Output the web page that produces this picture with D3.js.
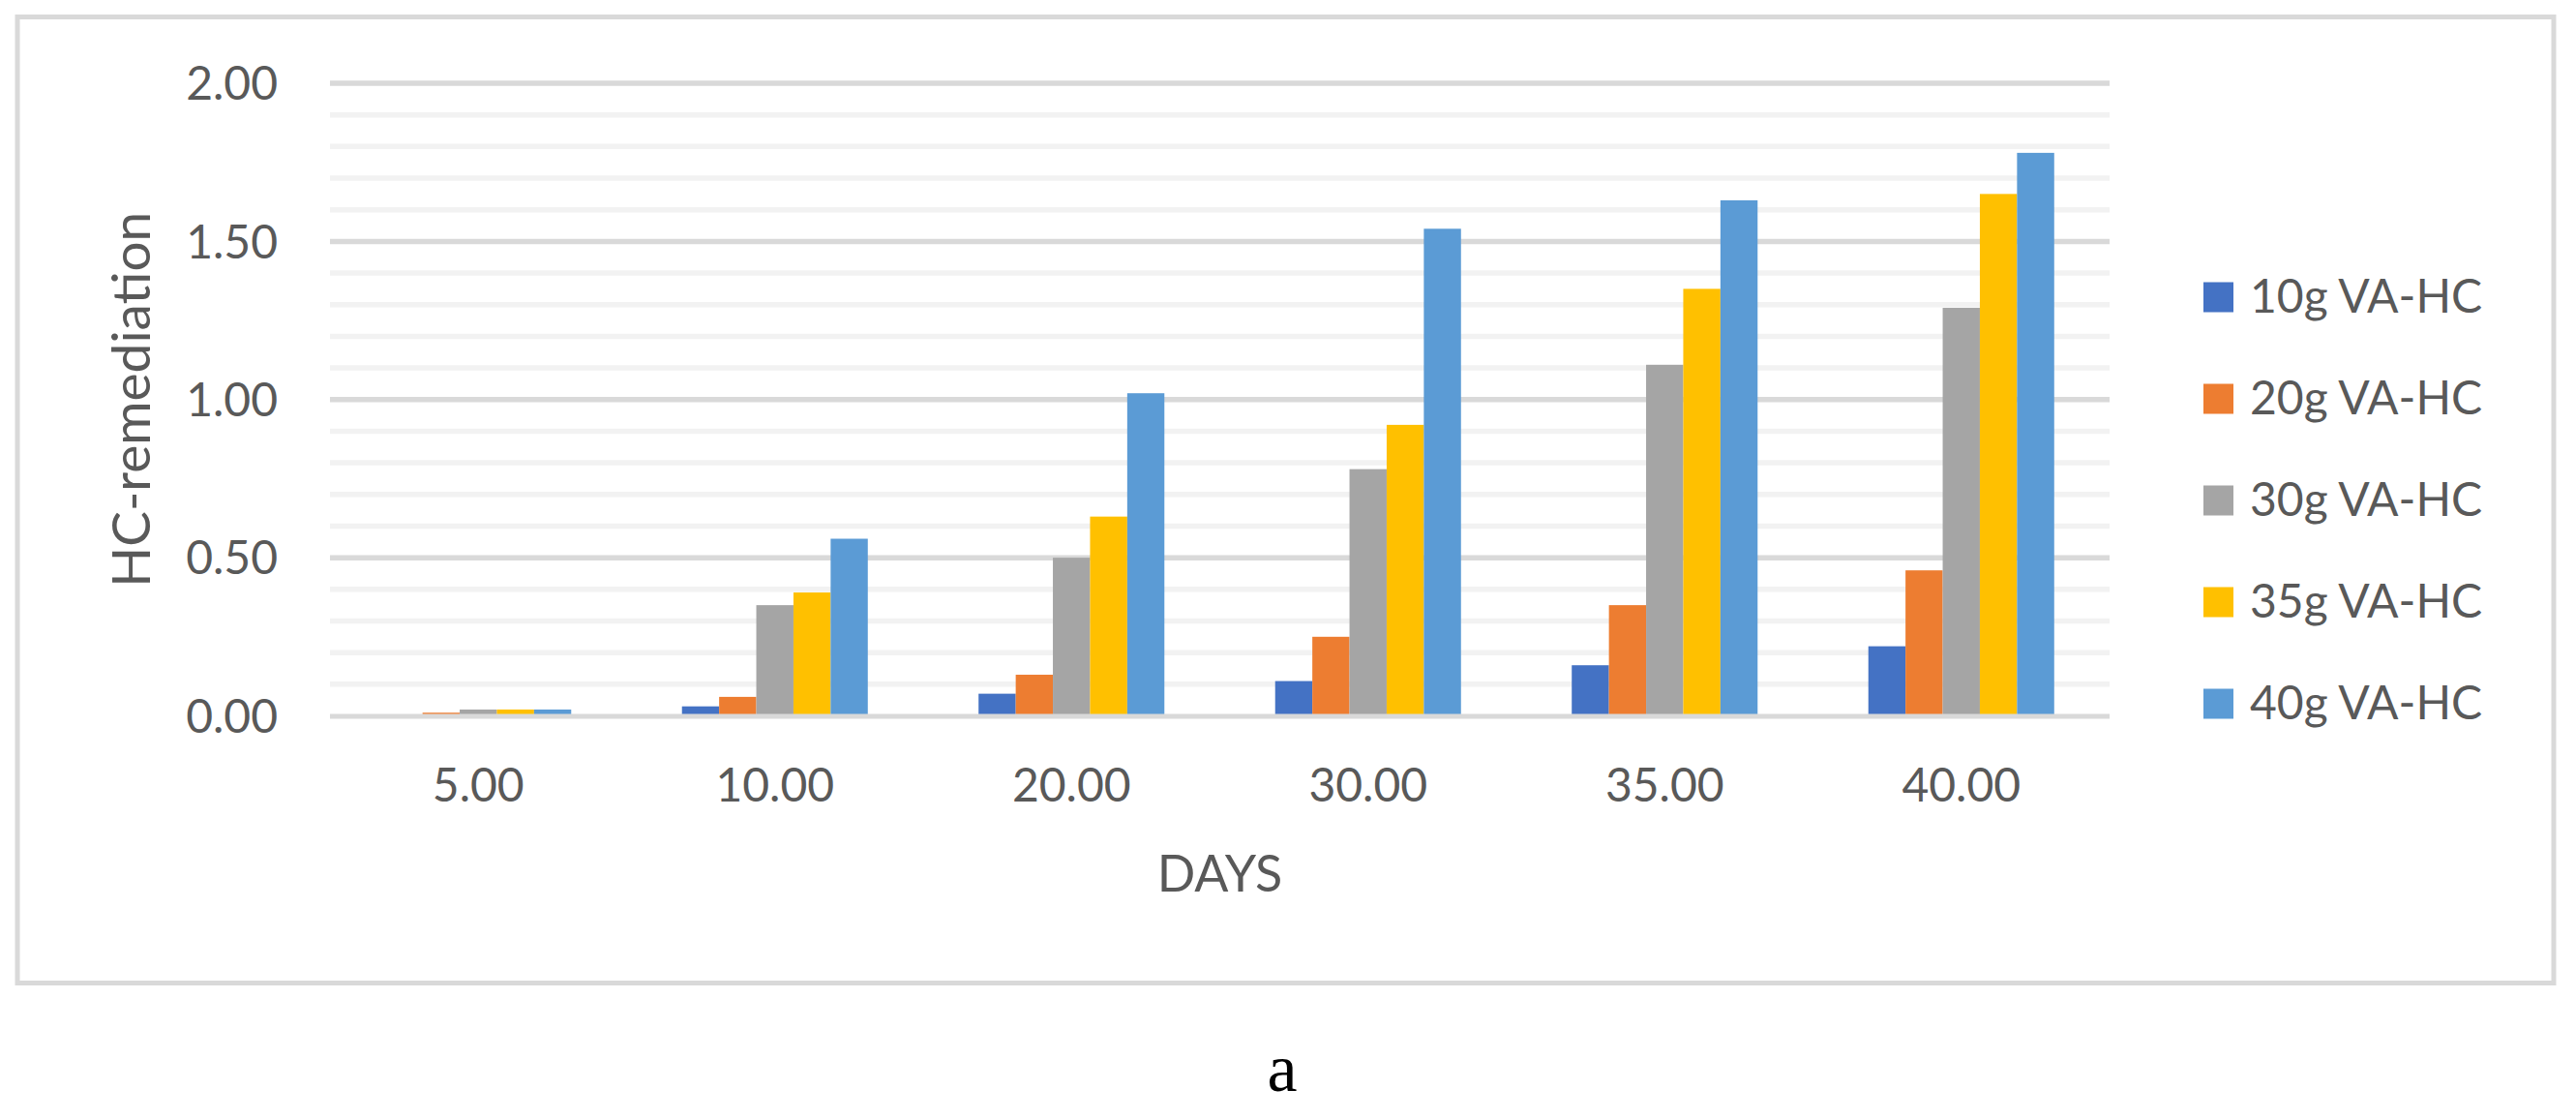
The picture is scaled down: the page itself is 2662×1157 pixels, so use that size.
<!DOCTYPE html>
<html>
<head>
<meta charset="utf-8">
<script src="https://cdn.jsdelivr.net/npm/d3@7"></script>
<style>
  html, body { margin: 0; padding: 0; background: #ffffff; }
  svg { display: block; }
</style>
</head>
<body>
<div id="chart"></div>
<script>
// ---- Data ----
const days = ["5.00", "10.00", "20.00", "30.00", "35.00", "40.00"];
const seriesNames = ["10g VA-HC", "20g VA-HC", "30g VA-HC", "35g VA-HC", "40g VA-HC"];
const s10g = [0.00, 0.03, 0.07, 0.11, 0.16, 0.22];
const s20g = [0.01, 0.06, 0.13, 0.25, 0.35, 0.46];
const s30g = [0.02, 0.35, 0.50, 0.78, 1.11, 1.29];
const s35g = [0.02, 0.39, 0.63, 0.92, 1.35, 1.65];
const s40g = [0.02, 0.56, 1.02, 1.54, 1.63, 1.78];
const yTickValues = [0, 0.5, 1.0, 1.5, 2.0];
const yMinorValues = [0.1, 0.2, 0.3, 0.4, 0.6, 0.7, 0.8, 0.9, 1.1, 1.2, 1.3, 1.4, 1.6, 1.7, 1.8, 1.9];
const seriesColors = ["#4472c4", "#ed7d31", "#a5a5a5", "#ffc000", "#5b9bd5"];
const xTitle = "DAYS";
const yTitle = "HC-remediation";
const caption = "a";

const seriesValues = [s10g, s20g, s30g, s35g, s40g];

// ---- Layout ----
const W = 2662, H = 1157;
const plot = { left: 341, right: 2180, top: 86, bottom: 739.5 };
const textColor = "#595959";
const font = "Lato, 'Open Sans', sans-serif";

const svg = d3.select("#chart").append("svg")
  .attr("width", W).attr("height", H);

svg.append("rect").attr("width", W).attr("height", H).attr("fill", "#fff");

// outer chart border
svg.append("rect")
  .attr("x", 18).attr("y", 17.5)
  .attr("width", 2639 - 18).attr("height", 1015.5 - 17.5)
  .attr("fill", "none").attr("stroke", "#d9d9d9").attr("stroke-width", 5);

// scales
const x0 = d3.scaleBand().domain(days).range([plot.left, plot.right]).paddingInner(0).paddingOuter(0);
const x1 = d3.scaleBand().domain(seriesNames).range([0, x0.bandwidth()]).paddingInner(0).paddingOuter(1.49);
const y = d3.scaleLinear().domain([0, 2]).range([plot.bottom, plot.top]);
const color = d3.scaleOrdinal().domain(seriesNames).range(seriesColors);

// minor gridlines
svg.append("g").selectAll("line").data(yMinorValues).join("line")
  .attr("x1", plot.left).attr("x2", plot.right)
  .attr("y1", d => y(d)).attr("y2", d => y(d))
  .attr("stroke", "#f2f2f2").attr("stroke-width", 5.5);

// major gridlines (excluding 0 axis line)
svg.append("g").selectAll("line").data(yTickValues.filter(v => v !== 0)).join("line")
  .attr("x1", plot.left).attr("x2", plot.right)
  .attr("y1", d => y(d)).attr("y2", d => y(d))
  .attr("stroke", "#d9d9d9").attr("stroke-width", 5.5);

// bars
const rows = days.map((d, i) => ({ day: d, vals: seriesNames.map((s, j) => ({ s, v: seriesValues[j][i] })) }));
const groups = svg.append("g").selectAll("g").data(rows).join("g")
  .attr("transform", d => `translate(${x0(d.day)},0)`);
groups.selectAll("rect").data(d => d.vals.filter(e => e.v > 0)).join("rect")
  .attr("x", d => x1(d.s))
  .attr("width", x1.bandwidth())
  .attr("y", d => y(d.v))
  .attr("height", d => y(0) - y(d.v))
  .attr("fill", d => color(d.s));

// horizontal axis line
svg.append("line")
  .attr("x1", plot.left).attr("x2", plot.right)
  .attr("y1", y(0) + 0.5).attr("y2", y(0) + 0.5)
  .attr("stroke", "#d9d9d9").attr("stroke-width", 5);

// y tick labels via d3 axis
const yAxis = d3.axisLeft(y).tickValues(yTickValues).tickFormat(d3.format(".2f")).tickSize(0).tickPadding(0);
const gy = svg.append("g").attr("transform", `translate(287,0)`).call(yAxis);
gy.select(".domain").remove();
gy.selectAll("text")
  .attr("fill", textColor).attr("font-family", font).attr("font-size", 48)
  .attr("dy", "0.35em").attr("x", 0);

// x tick labels via d3 axis
const xAxis = d3.axisBottom(x0).tickSize(0).tickPadding(0);
const gx = svg.append("g").attr("transform", `translate(0,0)`).call(xAxis);
gx.select(".domain").remove();
gx.selectAll("text")
  .attr("fill", textColor).attr("font-family", font).attr("font-size", 48)
  .attr("y", 828).attr("dy", 0);

// axis titles
svg.append("text")
  .attr("x", (plot.left + plot.right) / 2).attr("y", 921)
  .attr("text-anchor", "middle")
  .attr("fill", textColor).attr("font-family", font).attr("font-size", 52)
  .text(xTitle);

svg.append("text")
  .attr("transform", `translate(155,${(plot.top + plot.bottom) / 2}) rotate(-90)`)
  .attr("text-anchor", "middle")
  .attr("fill", textColor).attr("font-family", font).attr("font-size", 55)
  .text(yTitle);

// legend
const legend = svg.append("g").selectAll("g").data(seriesNames).join("g")
  .attr("transform", (d, i) => `translate(2277,${307 + i * 105})`);
legend.append("rect")
  .attr("x", 0).attr("y", -15.5).attr("width", 31).attr("height", 31)
  .attr("fill", d => color(d));
legend.append("text")
  .attr("x", 48).attr("y", 16)
  .attr("fill", textColor).attr("font-family", font).attr("font-size", 48)
  .text(d => d);

// caption
svg.append("text")
  .attr("x", 1325).attr("y", 1127)
  .attr("text-anchor", "middle")
  .attr("fill", "#000").attr("font-family", "'Liberation Serif', 'Times New Roman', serif").attr("font-size", 70)
  .text(caption);
</script>
</body>
</html>
